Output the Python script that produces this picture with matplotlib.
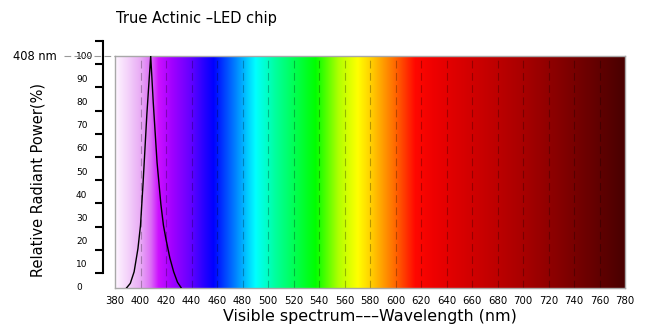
import matplotlib
matplotlib.use("Agg")
import matplotlib.pyplot as plt
import numpy as np
from matplotlib.colors import LinearSegmentedColormap
from matplotlib.transforms import blended_transform_factory
from matplotlib.lines import Line2D

# ---- data ----
wavelength_nm = [389, 392, 395, 398, 400, 402, 405, 408, 410, 413, 416, 418, 420, 423, 426, 429, 432]
relative_power = [0, 2, 7, 17, 27, 45, 75, 100, 80, 54, 36, 27, 21, 13, 7, 2.5, 0]
x_ticks = list(range(380, 781, 20))
y_tick_labels = list(range(0, 101, 10))
peak_label = "408 nm"
title = "True Actinic \u2013LED chip"

# spectrum colour stops (wavelength, colour)
spec_stops = [(380, "#fef6ff"), (390, "#f4d2fa"), (400, "#e8aaf5"), (408, "#dc6cf6"),
              (414, "#cc10ff"), (425, "#a000ff"), (440, "#6000ff"), (450, "#2400ff"),
              (457, "#0000ff"), (472, "#0070ff"), (490, "#00ffff"), (505, "#00ffa0"),
              (537, "#00ff00"), (555, "#b0ff00"), (570, "#ffff00"), (582, "#ffc800"),
              (598, "#ff7000"), (615, "#ff0800"), (630, "#ee0000"), (700, "#a80000"),
              (780, "#480000")]

fig = plt.figure(figsize=(6.51, 3.34), dpi=100)
W, H = 651.0, 334.0
x0, x1, y0, y1 = 115, 625, 56, 288
ax = fig.add_axes([x0 / W, 1 - y1 / H, (x1 - x0) / W, (y1 - y0) / H])

lo, hi = spec_stops[0][0], spec_stops[-1][0]
cmap = LinearSegmentedColormap.from_list(
    "spec", [((w - lo) / (hi - lo), c) for w, c in spec_stops], N=1024)
grad = np.linspace(0, 1, 1024).reshape(1, -1)
ax.imshow(grad, cmap=cmap, extent=[380, 780, 0, 100], aspect="auto", origin="lower", zorder=0)

for xv in x_ticks[1:-1]:
    ax.axvline(xv, color="black", alpha=0.28, lw=0.8, ls=(0, (7, 4)), zorder=1)

ax.plot(wavelength_nm, relative_power, color="black", lw=1.0, zorder=3)

ax.set_xlim(380, 780)
ax.set_ylim(0, 100)
ax.set_xticks(x_ticks)
ax.set_xticklabels([str(v) for v in x_ticks], fontsize=7.3, family="DejaVu Sans")
ax.tick_params(axis="x", length=0, pad=6)
ax.set_yticks([])
for s in ax.spines.values():
    s.set_color("#a8a8a8")
    s.set_linewidth(1.0)

ax.set_xlabel("Visible spectrum\u2013\u2013\u2013Wavelength (nm)", fontsize=11.4, labelpad=2)

# offset left axis with ticks
top_val = 106.5
ax2 = fig.add_axes([x0 / W, 1 - y1 / H, (x1 - x0) / W, (y1 - y0) / H * top_val / 100])
ax2.patch.set_visible(False)
ax2.set_xlim(380, 780)
ax2.set_ylim(0, top_val)
for k in ["top", "right", "bottom"]:
    ax2.spines[k].set_visible(False)
ax2.spines["left"].set_position(("outward", 12 * 72 / 100))
ax2.spines["left"].set_bounds(6.5, top_val)
ax2.spines["left"].set_linewidth(1.5)
ax2.set_xticks([])
ax2.set_yticks([6.5 + 10 * k for k in range(11)])
ax2.set_yticklabels([])
ax2.tick_params(axis="y", direction="out", length=6, width=1.5)

# y tick labels
tr = blended_transform_factory(fig.transFigure, ax.transData)
for v in y_tick_labels:
    bb = dict(facecolor="white", edgecolor="none", pad=0.5) if v == 100 else None
    ax.text(76 / W, v, str(v), transform=tr, fontsize=6.5, ha="left", va="center",
            bbox=bb, zorder=5, clip_on=False)

# peak marker line and label
ln = Line2D([64 / W, x0 / W], [100, 100], transform=tr, color="#999999", lw=0.8,
            ls=(0, (6, 3)), zorder=2)
fig.add_artist(ln)
fig.text(57 / W, 1 - 56 / H, peak_label, fontsize=8.3, ha="right", va="center")

fig.text(38 / W, 1 - 180 / H, "Relative Radiant Power(%)", rotation=90, fontsize=10.5,
         ha="center", va="center")
fig.text(116 / W, 1 - 19 / H, title, fontsize=10.5, ha="left", va="center")

fig.savefig("out.png", dpi=100)
